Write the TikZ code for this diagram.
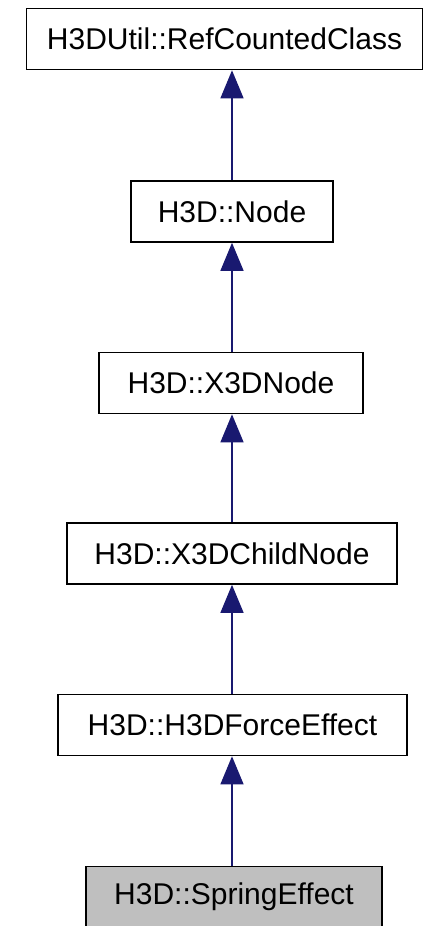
\documentclass[tikz,border=0pt]{standalone}
\usepackage{fontspec}
\setmainfont{Liberation Sans}
\usetikzlibrary{arrows.meta}
\definecolor{edgeblue}{HTML}{191970}
\definecolor{leafgray}{HTML}{BFBFBF}
\begin{document}
\begin{tikzpicture}[x=1pt,y=-1pt,
  cls/.style={draw=black, line width=1.6pt, fill=white, inner sep=0pt,
    minimum height=61pt, font=\fontsize{30}{33}\selectfont},
  leaf/.style={cls, fill=leafgray},
  inherit/.style={draw=edgeblue, line width=1.3pt,
    -{Triangle[length=28pt,width=23pt,fill=edgeblue]}}]
\useasboundingbox[fill=white] (0,0) rectangle (424,926);
\node[cls, minimum width=396pt] (n1) at (224.5,39) {H3DUtil::RefCountedClass};
\node[cls, minimum width=202pt] (n2) at (232,211.5) {H3D::Node};
\node[cls, minimum width=264pt] (n3) at (231,383) {H3D::X3DNode};
\node[cls, minimum width=330pt] (n4) at (232,553.5) {H3D::X3DChildNode};
\node[cls, minimum width=349pt] (n5) at (232.5,725) {H3D::H3DForceEffect};
\node[leaf, minimum width=296pt] (n6) at (234,897) {H3D::SpringEffect};
\draw[inherit] (n2.north) -- (n2.north |- n1.south);
\draw[inherit] (n3.north -| n2.south) -- (n2.south);
\draw[inherit] (n4.north -| n2.south) -- (n2.south |- n3.south);
\draw[inherit] (n5.north -| n2.south) -- (n2.south |- n4.south);
\draw[inherit] (n6.north -| n2.south) -- (n2.south |- n5.south);
\end{tikzpicture}
\end{document}
